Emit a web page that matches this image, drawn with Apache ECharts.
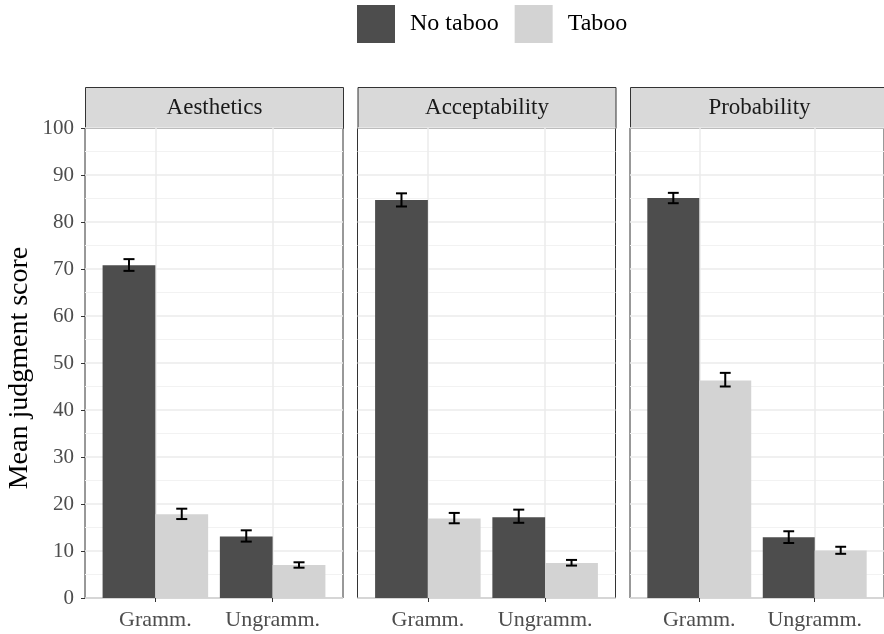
<!DOCTYPE html>
<html>
<head>
<meta charset="utf-8">
<script src="https://cdn.jsdelivr.net/npm/echarts@6/dist/echarts.min.js"></script>
<style>
  html, body { margin: 0; padding: 0; background: #fff; }
  #chart { width: 884px; height: 634px; }
</style>
</head>
<body>
<div id="chart"></div>
<script>
// Facets, conditions and groups
const panels = ['Aesthetics', 'Acceptability', 'Probability'];
const conditions = ['Gramm.', 'Ungramm.'];
const groups = ['No taboo', 'Taboo'];
const yTicks = [0, 10, 20, 30, 40, 50, 60, 70, 80, 90, 100];

// Mean judgment score per panel: [Gramm., Ungramm.]
const noTabooMean = [[70.8, 13.1], [84.7, 17.2], [85.1, 12.9]];
const tabooMean   = [[17.8, 7.0],  [16.9, 7.45], [46.3, 10.1]];

// Error bar limits per panel: [Gramm., Ungramm.]
const noTabooLow  = [[69.6, 12.0], [83.3, 16.0], [84.0, 11.7]];
const noTabooHigh = [[72.1, 14.4], [86.1, 18.8], [86.2, 14.2]];
const tabooLow    = [[16.8, 6.45], [15.9, 6.9],  [45.0, 9.4]];
const tabooHigh   = [[19.0, 7.6],  [18.1, 8.1],  [47.9, 10.9]];

const FONT = '"Liberation Serif", "DejaVu Serif", serif';
const COLORS = { 'No taboo': '#4d4d4d', 'Taboo': '#d3d3d3' };
const DODGE = 0.225, BAR_HALF = 0.225, CAP_HALF = 0.047;

const panelLeft = [85, 357.5, 630];
const panelWidth = 258;
const panelTop = 128, panelBottom = 36;
const stripHeight = 41;

const chart = echarts.init(document.getElementById('chart'), null, { renderer: 'canvas' });

const grids = [], xAxes = [], yAxes = [], series = [], graphics = [];

function barRender(params, api) {
  const x = api.value(0), y = api.value(1);
  const p0 = api.coord([x - BAR_HALF, 0]);
  const p1 = api.coord([x + BAR_HALF, y]);
  return {
    type: 'rect',
    shape: { x: p0[0], y: p1[1], width: p1[0] - p0[0], height: p0[1] - p1[1] },
    style: api.style()
  };
}

function errRender(params, api) {
  const x = api.value(0), lo = api.value(1), hi = api.value(2);
  const top = api.coord([x, hi]), bot = api.coord([x, lo]);
  const l = api.coord([x - CAP_HALF, hi])[0], r = api.coord([x + CAP_HALF, hi])[0];
  const style = { stroke: '#000', lineWidth: 2 };
  return {
    type: 'group',
    children: [
      { type: 'line', shape: { x1: top[0], y1: top[1], x2: bot[0], y2: bot[1] }, style },
      { type: 'line', shape: { x1: l, y1: top[1], x2: r, y2: top[1] }, style },
      { type: 'line', shape: { x1: l, y1: bot[1], x2: r, y2: bot[1] }, style }
    ]
  };
}

panels.forEach((name, i) => {
  grids.push({
    left: panelLeft[i], width: panelWidth, top: panelTop, bottom: panelBottom,
    show: true, borderColor: '#333333', borderWidth: 1, backgroundColor: '#fff',
    containLabel: false
  });
  xAxes.push({
    type: 'value', gridIndex: i, min: 0.4, max: 2.6,
    axisLine: { show: false },
    axisTick: { show: true, customValues: [1, 2], length: 4, lineStyle: { color: '#333333', width: 1 } },
    axisLabel: {
      show: true, customValues: [1, 2], margin: 11,
      formatter: v => conditions[Math.round(v) - 1] || '',
      fontFamily: FONT, fontSize: 22, color: '#4d4d4d'
    },
    splitLine: { show: true, lineStyle: { color: '#ebebeb', width: 1.5 } }
  });
  yAxes.push({
    type: 'value', gridIndex: i, min: 0, max: 100, interval: 10,
    name: i === 0 ? 'Mean judgment score' : '',
    nameLocation: 'middle', nameGap: 51, nameRotate: 90,
    nameTextStyle: { fontFamily: FONT, fontSize: 28, color: '#000', padding: [0, 10, 0, 0] },
    axisLine: { show: false },
    axisTick: { show: i === 0, length: 4, lineStyle: { color: '#333333', width: 1 } },
    axisLabel: { show: i === 0, margin: 11, fontFamily: FONT, fontSize: 21, color: '#4d4d4d',
                 formatter: v => yTicks.includes(v) ? String(v) : '' },
    splitLine: { show: true, lineStyle: { color: '#ebebeb', width: 1.5 } },
    minorTick: { show: false, splitNumber: 2 },
    minorSplitLine: { show: true, lineStyle: { color: '#f2f2f2', width: 1 } }
  });

  const sets = [
    { g: 'No taboo', mean: noTabooMean[i], lo: noTabooLow[i], hi: noTabooHigh[i], off: -DODGE },
    { g: 'Taboo', mean: tabooMean[i], lo: tabooLow[i], hi: tabooHigh[i], off: DODGE }
  ];
  sets.forEach(s => {
    series.push({
      name: s.g, type: 'custom', xAxisIndex: i, yAxisIndex: i,
      itemStyle: { color: COLORS[s.g] },
      renderItem: barRender,
      encode: { x: 0, y: 1 },
      data: conditions.map((c, k) => [k + 1 + s.off, s.mean[k]]),
      z: 2
    });
  });
  sets.forEach(s => {
    series.push({
      type: 'custom', xAxisIndex: i, yAxisIndex: i,
      renderItem: errRender,
      encode: { x: 0, y: [1, 2] },
      data: conditions.map((c, k) => [k + 1 + s.off, s.lo[k], s.hi[k]]),
      z: 3
    });
  });

  // facet strip
  graphics.push({
    type: 'group', left: panelLeft[i], top: panelTop - stripHeight,
    children: [
      { type: 'rect', shape: { x: 0, y: 0, width: panelWidth, height: stripHeight },
        style: { fill: '#d9d9d9', stroke: '#333333', lineWidth: 1 } },
      { type: 'text', x: panelWidth / 2, y: stripHeight / 2,
        style: { text: name, fontFamily: FONT, fontSize: 23, fill: '#1a1a1a',
                 align: 'center', verticalAlign: 'middle' } }
    ]
  });
});

chart.setOption({
  animation: false,
  backgroundColor: '#fff',
  legend: {
    data: groups, left: 357, top: 5, padding: 0, orient: 'horizontal',
    icon: 'rect', itemWidth: 38, itemHeight: 38, itemGap: 16,
    textStyle: { fontFamily: FONT, fontSize: 24, color: '#000', padding: [0, 0, 0, 10] }
  },
  grid: grids, xAxis: xAxes, yAxis: yAxes, series, graphic: graphics
});
</script>
</body>
</html>
